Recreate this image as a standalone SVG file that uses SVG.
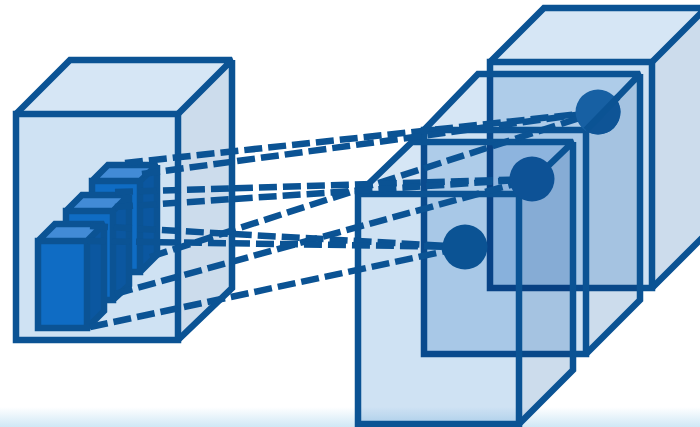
<svg xmlns="http://www.w3.org/2000/svg" width="700" height="427" viewBox="0 0 700 427">
<defs>
<linearGradient id="fade" x1="0" y1="0" x2="0" y2="1"><stop offset="0" stop-color="#c4e2f3" stop-opacity="0"/><stop offset="1" stop-color="#c4e2f3" stop-opacity="0.8"/></linearGradient>
<clipPath id="beyond"><polygon points="640,74 586,130 586,160 660,160 660,74"/></clipPath>
</defs>
<style>
.e{fill:none;stroke:#0b5394;stroke-width:6.5;stroke-linejoin:miter;stroke-miterlimit:2}
.f{fill:#cfe2f3;mix-blend-mode:multiply}
.t{fill:#d6e6f5;mix-blend-mode:multiply}
.s{fill:#ccdcec;mix-blend-mode:multiply}
.bf{fill:#0f6cc4}
.bt{fill:#428bd6}
.bs{fill:#0b57a0}
.n{fill:#0b5394}
.c{fill:none;stroke:#0b5394;stroke-width:6.5;stroke-dasharray:18 6}
</style>
<rect width="700" height="427" fill="#ffffff"/>
<rect x="0" y="407" width="700" height="20" fill="url(#fade)"/>
<g id="input-volume">
<path class="t" d="M16 114L70 60H232L178 114Z"/>
<path class="s" d="M178 114L232 60V288L178 340Z"/>
<rect class="f" x="16" y="114" width="162" height="226"/>
<path class="e" d="M16 114L70 60H232L178 114M232 60V288L178 340"/>
<rect class="e" x="16" y="114" width="162" height="226"/>
</g>
<g id="filter-3">
<path class="bt" d="M92 181L108 165H157L140 181Z"/>
<path class="bs" d="M140 181L157 165V255L140 272Z"/>
<rect class="bf" x="92" y="181" width="48" height="91"/>
<path class="e" d="M92 181L108 165H157L140 181M157 165V255L140 272M92 181H140V272H92Z"/>
</g>
<g id="filter-2">
<path class="bt" d="M66 211L82 195H129L113 211Z"/>
<path class="bs" d="M113 211L129 195V285L113 300Z"/>
<rect class="bf" x="66" y="211" width="47" height="89"/>
<path class="e" d="M66 211L82 195H129L113 211M129 195V285L113 300M66 211H113V300H66Z"/>
</g>
<g id="filter-1">
<path class="bt" d="M38 241L55 224H104L87 241Z"/>
<path class="bs" d="M87 241L104 224V311L87 328Z"/>
<rect class="bf" x="38" y="241" width="49" height="87"/>
<path class="e" d="M38 241L55 224H104L87 241M104 224V311L87 328M38 241H87V328H38Z"/>
</g>
<g id="volume-a">
<path class="t" d="M490 62L544 8H706L652 62Z"/>
<path class="s" d="M652 62L706 8V234L652 288Z"/>
<rect class="f" x="490" y="62" width="162" height="226"/>
<path class="e" d="M490 62L544 8H706L652 62M706 8V234L652 288"/>
<rect class="e" x="490" y="62" width="162" height="226"/>
</g>
<g id="volume-b">
<path class="t" d="M424 130L478 74H640L586 130Z"/>
<path class="s" d="M586 130L640 74V300L586 354Z"/>
<rect class="f" x="424" y="130" width="162" height="224"/>
<path class="e" d="M424 130L478 74H640L586 130M640 74V300L586 354"/>
<rect class="e" x="424" y="130" width="162" height="224"/>
</g>
<g id="volume-c">
<path class="t" d="M358 194L412 142H573L519 194Z"/>
<path class="s" d="M519 194L573 142V370L519 424Z"/>
<rect class="f" x="358" y="194" width="161" height="230"/>
<path class="e" d="M358 194L412 142H573L519 194M573 142V370L519 424"/>
<rect class="e" x="358" y="194" width="161" height="230"/>
</g>
<g id="connectors">
<path class="c" d="M125 163L598 112"/>
<path class="c" d="M142 174L598 112"/>
<path class="c" d="M150 257L598 112"/>
<path class="c" d="M115 192L532 179"/>
<path class="c" d="M115 207L532 179"/>
<path class="c" d="M115 294L532 179"/>
<path class="c" d="M90 226L465 247"/>
<path class="c" d="M88 241L465 247"/>
<path class="c" d="M90 327L465 247"/>
</g>
<g id="unit-a">
<circle cx="598" cy="112" r="22.5" fill="#1760a3"/>
<circle cx="598" cy="112" r="22.5" fill="#0e5496" clip-path="url(#beyond)"/>
<path d="M618 97L586 130" class="e"/>
</g>
<g id="unit-b"><circle cx="532" cy="179" r="22.5" fill="#0d5296"/></g>
<g id="unit-c"><circle class="n" cx="465" cy="247" r="22.5"/></g>
</svg>
